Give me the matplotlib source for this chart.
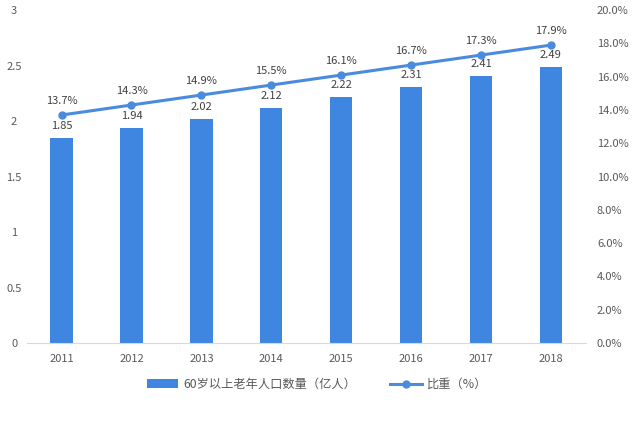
import matplotlib
matplotlib.use('Agg')
import matplotlib.pyplot as plt
from matplotlib.ticker import FuncFormatter

plt.rcParams['font.family'] = ['Noto Sans CJK SC', 'DejaVu Sans']

years = ['2011', '2012', '2013', '2014', '2015', '2016', '2017', '2018']
population = [1.85, 1.94, 2.02, 2.12, 2.22, 2.31, 2.41, 2.49]
share = [13.7, 14.3, 14.9, 15.5, 16.1, 16.7, 17.3, 17.9]

bar_color = '#3F86E0'
line_color = '#4A8BDE'
text_color = '#404040'

fig = plt.figure(figsize=(6.34, 4.23), dpi=100)
ax = fig.add_axes([0.042, 0.189, 0.882, 0.787])
x = list(range(len(years)))

bars = ax.bar(x, population, width=0.32, color=bar_color, label='60岁以上老年人口数量（亿人）', zorder=2)
ax.set_ylim(0, 3)
ax.set_xlim(-0.5, len(years) - 0.5)
ax.set_yticks([0, 0.5, 1, 1.5, 2, 2.5, 3])
ax.set_yticklabels(['0', '0.5', '1', '1.5', '2', '2.5', '3'])
ax.set_xticks(x)
ax.set_xticklabels(years)
for s in ['top', 'right', 'left']:
    ax.spines[s].set_visible(False)
ax.spines['bottom'].set_color('#D9D9D9')
ax.tick_params(axis='both', length=0, labelsize=8, colors='#595959')
ax.tick_params(axis='x', pad=8)
ax.tick_params(axis='y', pad=9)
for lbl in ax.get_yticklabels():
    lbl.set_horizontalalignment('center')

for xi, v in zip(x, population):
    ax.text(xi, v + 0.06, f'{v:.2f}', ha='center', va='bottom', fontsize=8, color=text_color)

ax2 = ax.twinx()
line, = ax2.plot(x, share, color=line_color, lw=2.2, marker='o', ms=5, label='比重（%）', zorder=3)
ax2.set_ylim(0, 20)
ax2.set_yticks([0, 2, 4, 6, 8, 10, 12, 14, 16, 18, 20])
ax2.yaxis.set_major_formatter(FuncFormatter(lambda v, p: f'{v:.1f}%'))
for s in ['top', 'right', 'left', 'bottom']:
    ax2.spines[s].set_visible(False)
ax2.tick_params(axis='y', length=0, labelsize=8, colors='#595959', pad=8)

for xi, v in zip(x, share):
    ax2.text(xi, v + 0.55, f'{v:.1f}%', ha='center', va='bottom', fontsize=8, color=text_color)

fig.legend(handles=[bars, line], loc='lower center', bbox_to_anchor=(0.5, 0.05), ncol=2,
           frameon=False, fontsize=8.8, handlelength=2.6, handletextpad=0.4,
           columnspacing=2.8, labelcolor='#595959')

fig.savefig('out.png', dpi=100)
